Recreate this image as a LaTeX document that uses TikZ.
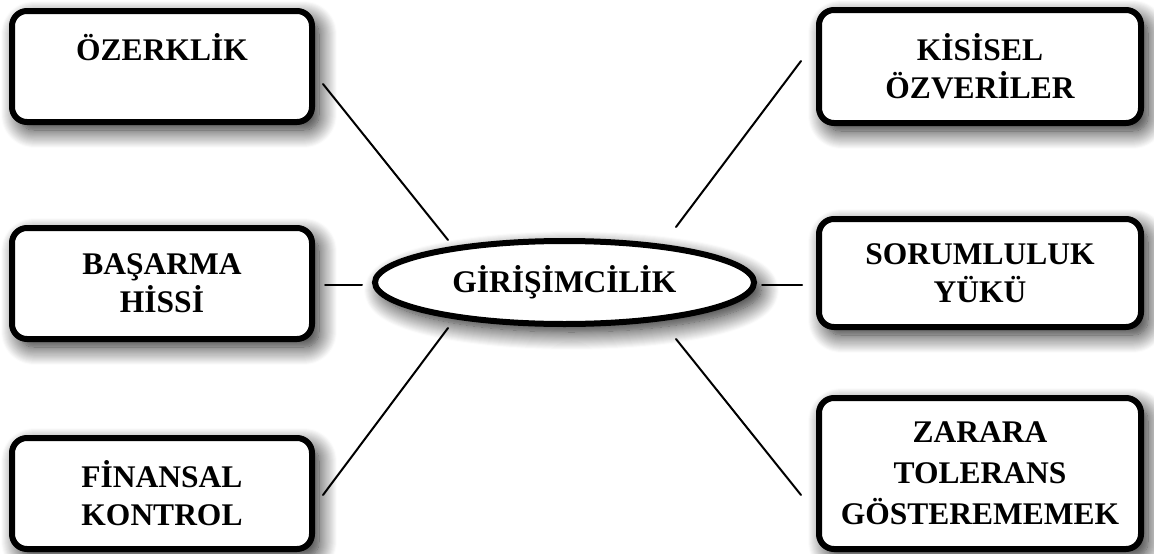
\documentclass[tikz,border=0pt]{standalone}
\usepackage{fontspec}
\setmainfont{Liberation Serif}
\usetikzlibrary{shadows.blur,shapes.geometric,calc}
\begin{document}
\begin{tikzpicture}[x=1pt,y=-1pt,
  soft/.style={blur shadow={shadow xshift=7pt,shadow yshift=-8pt,
      shadow blur radius=18pt,shadow opacity=90,shadow blur steps=18}},
  box/.style={draw=black,line width=6pt,rounded corners=15pt,fill=white,
      align=center,inner sep=0pt,soft,
      font=\fontsize{31.5}{38}\selectfont\bfseries},
  leftbox/.style={box,minimum width=300pt,minimum height=111pt},
  rightbox/.style={box,minimum width=322pt},
  hub/.style={ellipse,draw=black,line width=6pt,fill=white,inner sep=0pt,
      minimum width=379pt,minimum height=83pt,soft,
      font=\fontsize{31.5}{38}\selectfont\bfseries},
  link/.style={line width=2pt,line cap=round}]
\useasboundingbox (0,0) rectangle (1154,554);

% central concept
\node[hub] (gir) at (564.5,282.5) {GİRİŞİMCİLİK};

% left column
\node[leftbox] (ozer) at (162,66.5) {ÖZERKLİK\\~};
\node[leftbox] (bas) at (162,283.5) {BAŞARMA\\HİSSİ};
\node[leftbox] (fin) at (162,493.5) {FİNANSAL\\KONTROL};

% right column
\node[rightbox,minimum height=113pt] (kis) at (980,66.5) {KİSİSEL\\ÖZVERİLER};
\node[rightbox,minimum height=108pt] (sor) at (980,273) {SORUMLULUK\\YÜKÜ};
\node[rightbox,minimum height=151pt,
      font=\fontsize{31.5}{41}\selectfont\bfseries] (zar) at (980,473.5)
      {ZARARA\\TOLERANS\\GÖSTEREMEMEK};

% connectors
\draw[link] ($(ozer.east)+(8,17.5)$) -- ($(gir.center)+(-116.5,-42.5)$);
\draw[link] ($(bas.east)+(10,1.5)$) -- ($(gir.west)+(-10,2.5)$);
\draw[link] ($(fin.east)+(8,1.5)$) -- ($(gir.center)+(-116.5,45.5)$);
\draw[link] ($(kis.west)+(-15,-5.5)$) -- ($(gir.center)+(111.5,-55.5)$);
\draw[link] ($(gir.east)+(5,2.5)$) -- ($(sor.west)+(-14,12)$);
\draw[link] ($(gir.center)+(111.5,56.5)$) -- ($(zar.west)+(-15,21.5)$);
\end{tikzpicture}
\end{document}
